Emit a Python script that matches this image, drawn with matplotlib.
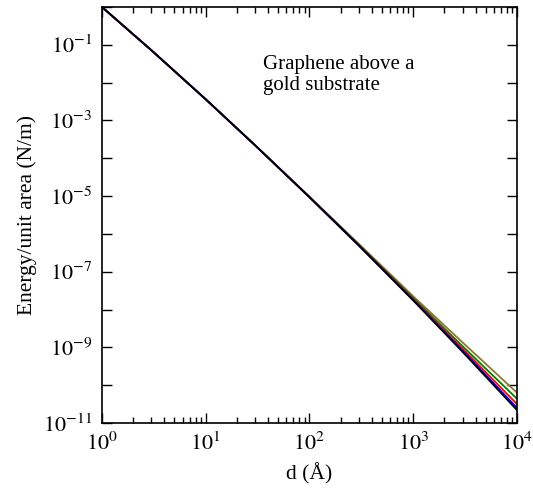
import numpy as np
import matplotlib.pyplot as plt

plt.rcParams['font.family'] = ['Liberation Serif', 'DejaVu Serif']
plt.rcParams['mathtext.fontset'] = 'stix'

d = [1, 3, 10, 30, 100, 300, 1000, 3000, 10000]

# log10 of energy per unit area
log_black = [0, -1.145, -2.44, -3.66, -5.03, -6.313, -7.76, -9.124, -10.66]
log_blue  = [0, -1.145, -2.44, -3.66, -5.03, -6.308, -7.745, -9.089, -10.60]
log_red   = [0, -1.145, -2.44, -3.66, -5.027, -6.301, -7.725, -9.039, -10.50]
log_green = [0, -1.145, -2.44, -3.658, -5.022, -6.288, -7.695, -8.974, -10.36]
log_brown = [0, -1.145, -2.44, -3.656, -5.015, -6.268, -7.65, -8.874, -10.20]

series = [
    (log_brown, '#8c7a2a'),
    (log_green, '#008000'),
    (log_red, 'red'),
    (log_blue, 'blue'),
    (log_black, 'black'),
]

fig = plt.figure(figsize=(5.33, 4.93), dpi=100)
ax = fig.add_axes([0.191, 0.142, 0.779, 0.844])

for vals, col in series:
    ax.plot(d, 10 ** np.array(vals), color=col, lw=1.3)

ax.set_xscale('log')
ax.set_yscale('log')
ax.set_xlim(1, 1e4)
ax.set_ylim(1e-11, 1)

ax.set_yticks([10.0 ** k for k in range(-11, 1)])
ax.set_yticklabels(['' if k % 2 == 0 else f'$10^{{{k}}}$' for k in range(-11, 1)])
ax.yaxis.set_minor_locator(plt.NullLocator())
ax.set_xticks([10.0 ** k for k in range(0, 5)])
ax.set_xticklabels([f'$10^{{{k}}}$' for k in range(0, 5)])

ax.tick_params(which='both', direction='in', top=True, right=True, labelsize=16, pad=7)
ax.tick_params(which='major', length=7, width=1)
ax.tick_params(which='minor', length=4, width=1)
for s in ax.spines.values():
    s.set_linewidth(1.2)

ax.set_xlabel('d (Å)', fontsize=15.5, labelpad=6)
ax.set_ylabel('Energy/unit area (N/m)', fontsize=15.5, labelpad=4)
ax.text(0.388, 0.885, 'Graphene above a\ngold substrate', transform=ax.transAxes,
        fontsize=15, va='top', ha='left', linespacing=1.15)

fig.savefig('out.png')
